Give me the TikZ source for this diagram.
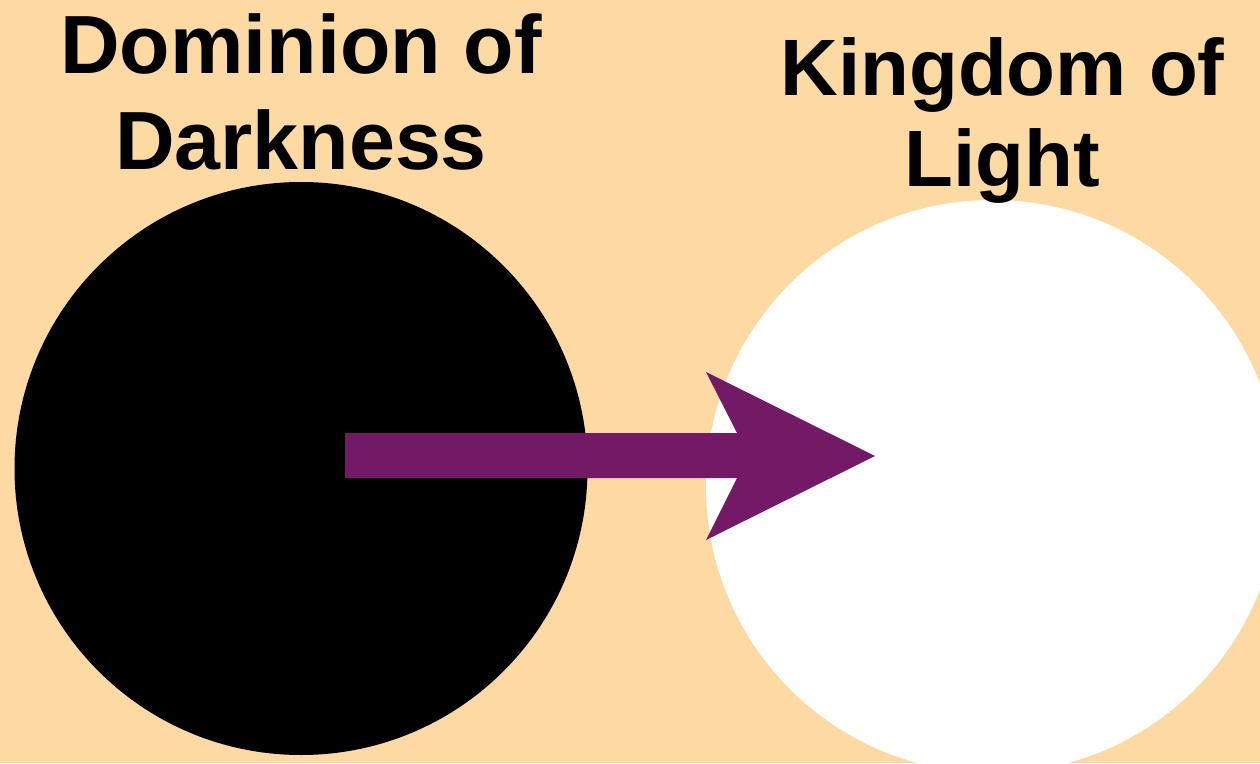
\documentclass[tikz,border=0pt]{standalone}
\usepackage{fontspec}
\setmainfont{Liberation Sans}
\usepackage{xcolor}

\definecolor{sand}{RGB}{253,217,164}
\definecolor{plum}{RGB}{115,25,102}

\begin{document}
\begin{tikzpicture}[
  realm/.style={circle, inner sep=0pt, minimum size=11.46cm},
  title/.style={anchor=base, inner sep=0pt, font=\bfseries\fontsize{47}{50}\selectfont}
]
  % Define the page and background
  \useasboundingbox (0,0) rectangle (25.2,15.26);
  \clip (0,0) rectangle (25.2,15.26);
  \fill[sand] (0,0) rectangle (25.2,15.26);

  % Draw the two realms
  \node[realm, fill=black] (dark) at (6.02,5.89) {};
  \node[realm, fill=white] (light) at (19.85,5.53) {};

  % Titles above the realms
  \node[title] (dark1) at (6.02,13.78) {Dominion of};
  \node[title] (dark2) at (6.02,11.86) {Darkness};
  \node[title, font=\bfseries\fontsize{45.5}{50}\selectfont] (light1) at (20.05,13.34) {Kingdom of};
  \node[title, font=\bfseries\fontsize{45.5}{50}\selectfont] (light2) at (20.05,11.52) {Light};

  % Define the arrow corners
  \coordinate (tail) at (6.90,5.99);
  \coordinate (tip) at (17.50,6.14);
  \coordinate (notch) at (14.74,6.60);
  \coordinate (barb) at (14.12,7.82);

  % Draw the arrow from darkness to light
  \fill[plum] (tail) -- (tail |- notch) -- (notch)
    -- (barb) -- (tip) -- (barb |- 0,4.46) -- (notch |- 0,5.70)
    -- (tail |- 0,5.70) -- cycle;
\end{tikzpicture}
\end{document}
